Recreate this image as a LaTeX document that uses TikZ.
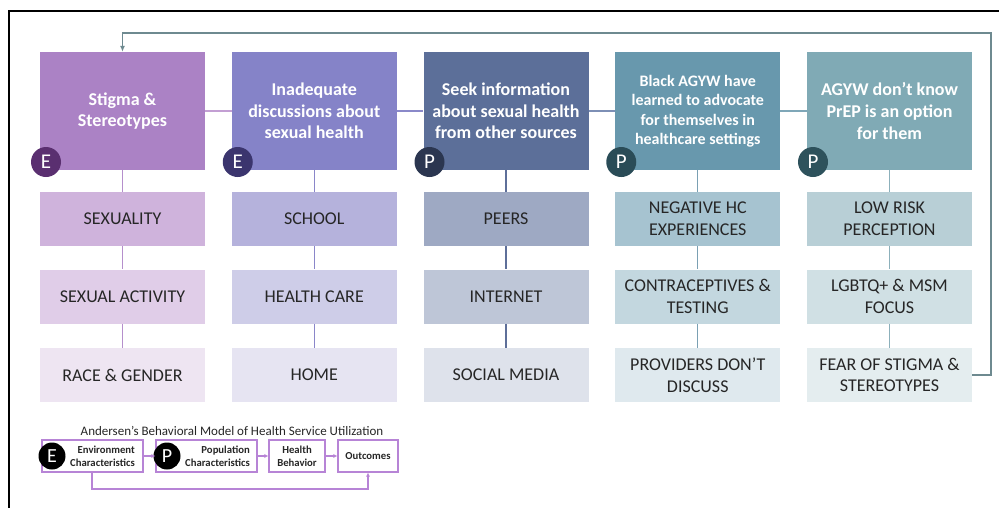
\documentclass[tikz,border=0pt]{standalone}
\usepackage{fontspec}
\setmainfont{Carlito}
\usetikzlibrary{arrows.meta}
\definecolor{mA}{HTML}{AB82C5}\definecolor{sA1}{HTML}{CFB3DC}\definecolor{sA2}{HTML}{E0CDE8}\definecolor{sA3}{HTML}{EEE5F2}
\definecolor{mB}{HTML}{8583C8}\definecolor{sB1}{HTML}{B5B2DC}\definecolor{sB2}{HTML}{CECDE8}\definecolor{sB3}{HTML}{E6E4F2}
\definecolor{mC}{HTML}{5C6F99}\definecolor{sC1}{HTML}{9EA9C3}\definecolor{sC2}{HTML}{BEC6D7}\definecolor{sC3}{HTML}{DEE2EB}
\definecolor{mD}{HTML}{6898AD}\definecolor{sD1}{HTML}{A6C3D0}\definecolor{sD2}{HTML}{C3D7DF}\definecolor{sD3}{HTML}{DFE9EE}
\definecolor{mE}{HTML}{80AAB5}\definecolor{sE1}{HTML}{B8CFD6}\definecolor{sE2}{HTML}{D0E0E4}\definecolor{sE3}{HTML}{E4EDEF}
\definecolor{bA}{HTML}{5A2F70}\definecolor{bB}{HTML}{3B356E}\definecolor{bC}{HTML}{2B3650}\definecolor{bD}{HTML}{2A4C57}\definecolor{bE}{HTML}{2E525C}
\definecolor{lA}{HTML}{B58FCC}\definecolor{lB}{HTML}{8A86C9}\definecolor{lC}{HTML}{5E6F99}\definecolor{lD}{HTML}{7AA0B3}\definecolor{lE}{HTML}{8CB0BB}
\definecolor{hAB}{HTML}{C39FD3}\definecolor{hBC}{HTML}{8A89C9}\definecolor{hCD}{HTML}{7D8FB5}\definecolor{hDE}{HTML}{7FA7B8}
\definecolor{fb}{HTML}{6E8A90}\definecolor{txt}{HTML}{262626}\definecolor{leg}{HTML}{B784D6}
\begin{document}
\begin{tikzpicture}[x=1pt,y=-1pt,
  mainbox/.style={rectangle,minimum width=165pt,minimum height=118pt,inner sep=0pt,text=white,align=center,font=\fontsize{18}{21.7}\selectfont\bfseries},
  smallmain/.style={mainbox,font=\fontsize{16}{19.5}\selectfont\bfseries},
  subbox/.style={rectangle,minimum width=165pt,minimum height=54pt,inner sep=0pt,text=txt,align=center,font=\fontsize{18}{21.7}\selectfont},
  badge/.style={circle,minimum size=30pt,inner sep=0pt,text=white,font=\fontsize{21}{21}\selectfont},
  link/.style={line width=1.3pt},
  legbox/.style={rectangle,draw=leg,line width=1.1pt,minimum height=32pt,inner sep=0pt,text=txt,font=\fontsize{10.7}{13}\selectfont\bfseries},
  legbadge/.style={circle,fill=black,minimum size=27pt,inner sep=0pt,text=white,font=\fontsize{20}{20}\selectfont},
  legarrow/.style={draw=leg,line width=1.1pt,-{Latex[length=4pt,width=4pt]}}
]
\useasboundingbox (0,0) rectangle (999,507);
% frame
\draw[line width=2pt,black] (1005,11) -- (9,11) -- (9,515);
% main boxes
\node[mainbox,fill=mA] (m1) at (122.5,111) {Stigma \&\\Stereotypes};
\node[mainbox,fill=mB] (m2) at (314.25,111) {Inadequate\\discussions about\\sexual health};
\node[mainbox,fill=mC] (m3) at (506,111) {Seek information\\about sexual health\\from other sources};
\node[smallmain,fill=mD] (m4) at (697.75,111) {Black AGYW have\\learned to advocate\\for themselves in\\healthcare settings};
\node[mainbox,fill=mE] (m5) at (889.5,111) {AGYW don’t know\\PrEP is an option\\for them};
% sub boxes
\node[subbox,fill=sA1] (a1) at (122.5,219) {SEXUALITY};
\node[subbox,fill=sA2] (a2) at (122.5,296.5) {SEXUAL ACTIVITY};
\node[subbox,fill=sA3] (a3) at (122.5,375) {RACE \& GENDER};
\node[subbox,fill=sB1] (b1) at (314.25,219) {SCHOOL};
\node[subbox,fill=sB2] (b2) at (314.25,296.5) {HEALTH CARE};
\node[subbox,fill=sB3] (b3) at (314.25,375) {HOME};
\node[subbox,fill=sC1] (c1) at (506,219) {PEERS};
\node[subbox,fill=sC2] (c2) at (506,296.5) {INTERNET};
\node[subbox,fill=sC3] (c3) at (506,375) {SOCIAL MEDIA};
\node[subbox,fill=sD1] (d1) at (697.75,219) {NEGATIVE HC\\EXPERIENCES};
\node[subbox,fill=sD2] (d2) at (697.75,296.5) {CONTRACEPTIVES \&\\TESTING};
\node[subbox,fill=sD3] (d3) at (697.75,375) {PROVIDERS DON’T\\DISCUSS};
\node[subbox,fill=sE1] (e1) at (889.5,219) {LOW RISK\\PERCEPTION};
\node[subbox,fill=sE2] (e2) at (889.5,296.5) {LGBTQ+ \& MSM\\FOCUS};
\node[subbox,fill=sE3] (e3) at (889.5,375) {FEAR OF STIGMA \&\\STEREOTYPES};
% vertical links
\begin{scope}[on background layer/.style={}]
\draw[link,lA] (m1.south) -- (a1.north) (a1.south) -- (a2.north) (a2.south) -- (a3.north);
\draw[link,lB] (m2.south) -- (b1.north) (b1.south) -- (b2.north) (b2.south) -- (b3.north);
\draw[link,lC] (m3.south) -- (c1.north) (c1.south) -- (c2.north) (c2.south) -- (c3.north);
\draw[link,lD] (m4.south) -- (d1.north) (d1.south) -- (d2.north) (d2.south) -- (d3.north);
\draw[link,lE] (m5.south) -- (e1.north) (e1.south) -- (e2.north) (e2.south) -- (e3.north);
\end{scope}
% horizontal links
\draw[link,hAB] (m1.east) -- (m2.west);
\draw[link,hBC] (m2.east) -- (m3.west);
\draw[link,hCD] (m3.east) -- (m4.west);
\draw[link,hDE] (m4.east) -- (m5.west);
% feedback
\coordinate (fbR) at (991,375);
\coordinate (fbT) at (991,33);
\draw[line width=1.4pt,fb,-{Latex[length=6pt,width=5pt]}] (e3.east) -- (fbR) -- (fbT) -- (m1.north |- fbT) -- (m1.north);
% badges
\node[badge,fill=bA] (eA) at (46,162) {E};
\node[badge,fill=bB] (eB) at (237.75,162) {E};
\node[badge,fill=bC] (pC) at (429.5,162) {P};
\node[badge,fill=bD] (pD) at (621.25,162) {P};
\node[badge,fill=bE] (pE) at (813,162) {P};
% legend
\node[text=txt,font=\fontsize{13}{15}\selectfont] (title) at (232,431) {Andersen’s Behavioral Model of Health Service Utilization};
\node[legbox,minimum width=101pt] (L1) at (92.5,456) {};
\node[legbox,minimum width=101pt] (L2) at (206.5,456) {};
\node[legbox,minimum width=56pt,align=center] (L3) at (297,456) {Health\\Behavior};
\node[legbox,minimum width=60pt] (L4) at (368,456) {Outcomes};
\node[anchor=east,align=right,text=txt,font=\fontsize{10.7}{13}\selectfont\bfseries,inner sep=0pt] (L1t) at (135,456) {Environment\\Characteristics};
\node[anchor=east,align=right,text=txt,font=\fontsize{10.7}{13}\selectfont\bfseries,inner sep=0pt] (L2t) at (250,456) {Population\\Characteristics};
\node[legbadge] (LE) at (52,456) {E};
\node[legbadge] (LP) at (167,456) {P};
\draw[legarrow] (L1.east) -- (L2.west);
\draw[legarrow] (L2.east) -- (L3.west);
\draw[legarrow] (L3.east) -- (L4.west);
\coordinate (LB1) at (92,489);
\draw[legarrow] (L1.south -| LB1) -- (LB1) -- (LB1 -| L4.south) -- (L4.south);
\end{tikzpicture}
\end{document}
